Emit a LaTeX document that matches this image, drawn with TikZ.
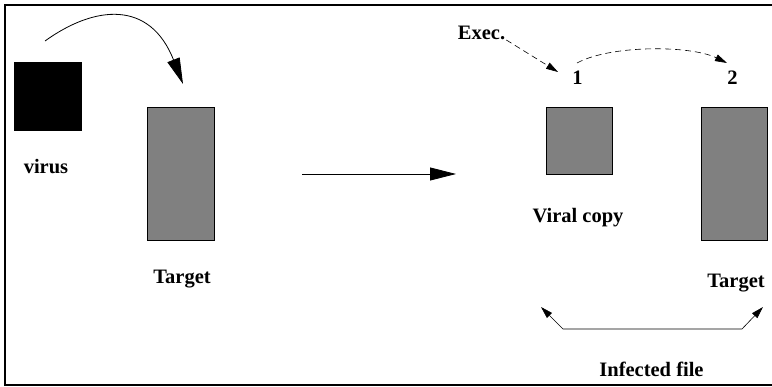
\documentclass[tikz,border=0pt]{standalone}
\usepackage{fontspec}
\setmainfont{Liberation Serif}
\usetikzlibrary{positioning, arrows.meta}

\begin{document}
\begin{tikzpicture}[x=1pt, y=-1pt]

	\tikzstyle{every node}=[font=\fontsize{20.5}{22}\selectfont\bfseries, inner sep=0pt]
	\tikzstyle{label}=[anchor=base]
	\tikzstyle{file}=[draw, line width=0.8pt, fill=black!50, anchor=north west]

	\useasboundingbox (0,0) rectangle (772,387);
	\draw[line width=2pt] (790,5) -- (5,5) -- (5,385) -- (790,385);

	% left side
	\node[file, fill=black, minimum width=67pt, minimum height=68pt]  (virus)   at (14,62)  {};
	\node[file, minimum width=67pt, minimum height=133pt]             (target)  at (147,107) {};
	\node[label] (viruslbl)  at (46,174)  {virus};
	\node[label] (targetlbl) at (182,284) {Target};

	% right side
	\node[file, minimum width=66pt, minimum height=67pt]              (copy)    at (546,107) {};
	\node[file, minimum width=66pt, minimum height=133pt]             (target2) at (701,107) {};
	\node[label] (copylbl)    at (578,223) {Viral copy};
	\node[label] (target2lbl) at (736,288)   {Target};
	\node[label] (exec)       at (481.5,40)  {Exec.};
	\node[label] (one)        at (577.5,85)  {1};
	\node[label] (two)        at (732.5,85)  {2};
	\node[label] (infected)   at (651.5,377) {Infected file};

	\coordinate (jumpS) at (45,41);
	\coordinate (jumpE) at (183,84);
	\coordinate (stepS) at (302,174);
	\coordinate (stepE) at (456,174);
	\coordinate (runS)  at (577,63);
	\coordinate (runE)  at (727,63);
	\coordinate (bothL) at (541,307);
	\coordinate (bothR) at (763,307);

	\tikzstyle{arrow} = [line width=0.8pt, -{Triangle[length=26pt, width=13pt]}]
	\tikzstyle{dasharrow} = [line width=0.6pt, dash pattern=on 6pt off 4pt, -{Triangle[length=12pt, width=7pt]}]
	\tikzstyle{twoarrow} = [line width=0.6pt, {Triangle[length=12pt, width=7pt]}-{Triangle[length=12pt, width=7pt]}]

	\draw[arrow] (jumpS) .. controls (95,5) and (150,0) .. (jumpE);
	\draw[arrow] (stepS) -- (stepE);
	\draw[dasharrow] ([xshift=1pt]exec.base east) -- (558,72);
	\draw[dasharrow] (runS) .. controls (610,45) and (690,45) .. (runE);
	\draw[twoarrow] (bothL) -- (563,329) -- (742,329) -- (bothR);

\end{tikzpicture}
\end{document}
